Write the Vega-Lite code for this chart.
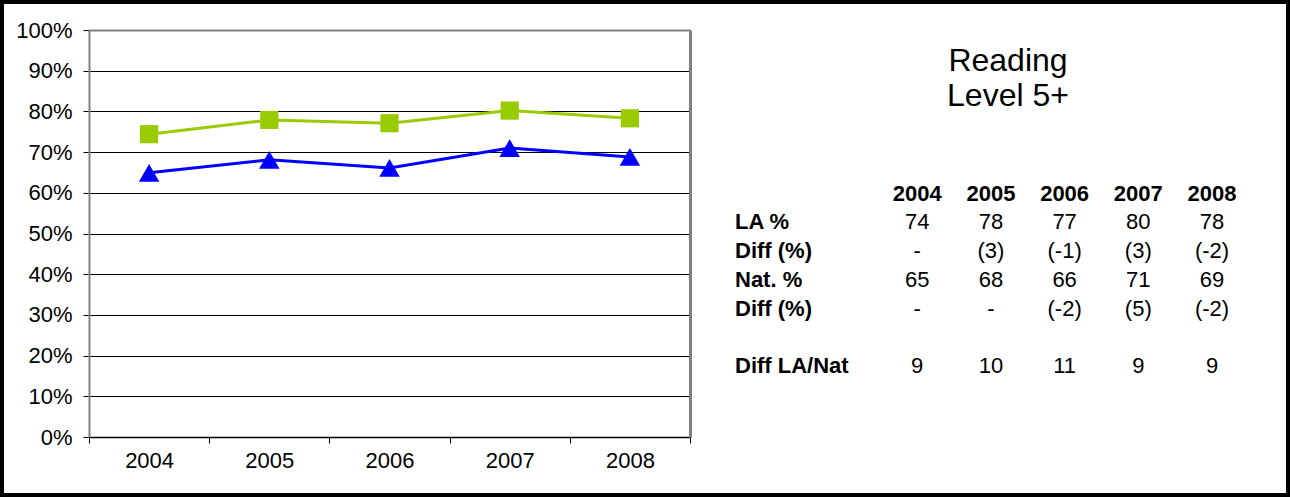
{
  "$schema": "https://vega.github.io/schema/vega-lite/v6.json",
  "width": 1290,
  "height": 497,
  "autosize": {"type": "none"},
  "padding": 0,
  "background": "white",
  "config": {
    "view": {"stroke": "black", "strokeWidth": 8},
    "font": "Liberation Sans",
    "text": {"font": "Liberation Sans"}
  },
  "title": {
    "text": ["Reading", "Level 5+"],
    "fontSize": 32,
    "fontWeight": "normal",
    "font": "Liberation Sans",
    "color": "black",
    "anchor": "middle",
    "frame": "group",
    "dx": 363,
    "offset": -113,
    "baseline": "top",
    "lineHeight": 35
  },
  "datasets": {
    "series": [
      {"year": "2004", "series": "LA", "value": 0.744},
      {"year": "2005", "series": "LA", "value": 0.779},
      {"year": "2006", "series": "LA", "value": 0.771},
      {"year": "2007", "series": "LA", "value": 0.802},
      {"year": "2008", "series": "LA", "value": 0.783},
      {"year": "2004", "series": "Nat", "value": 0.649},
      {"year": "2005", "series": "Nat", "value": 0.681},
      {"year": "2006", "series": "Nat", "value": 0.661},
      {"year": "2007", "series": "Nat", "value": 0.710},
      {"year": "2008", "series": "Nat", "value": 0.688}
    ],
    "table": [
      {"kind": "head", "row": 0, "col": 2.5, "text": "2004"},
      {"kind": "head", "row": 0, "col": 3.5, "text": "2005"},
      {"kind": "head", "row": 0, "col": 4.5, "text": "2006"},
      {"kind": "head", "row": 0, "col": 5.5, "text": "2007"},
      {"kind": "head", "row": 0, "col": 6.5, "text": "2008"},
      {"kind": "label", "row": 1, "col": 0, "text": "LA %"},
      {"kind": "label", "row": 2, "col": 0, "text": "Diff (%)"},
      {"kind": "label", "row": 3, "col": 0, "text": "Nat. %"},
      {"kind": "label", "row": 4, "col": 0, "text": "Diff (%)"},
      {"kind": "label", "row": 6, "col": 0, "text": "Diff LA/Nat"},
      {"kind": "value", "row": 1, "col": 2.5, "text": "74"},
      {"kind": "value", "row": 1, "col": 3.5, "text": "78"},
      {"kind": "value", "row": 1, "col": 4.5, "text": "77"},
      {"kind": "value", "row": 1, "col": 5.5, "text": "80"},
      {"kind": "value", "row": 1, "col": 6.5, "text": "78"},
      {"kind": "value", "row": 2, "col": 2.5, "text": "-"},
      {"kind": "value", "row": 2, "col": 3.5, "text": "(3)"},
      {"kind": "value", "row": 2, "col": 4.5, "text": "(-1)"},
      {"kind": "value", "row": 2, "col": 5.5, "text": "(3)"},
      {"kind": "value", "row": 2, "col": 6.5, "text": "(-2)"},
      {"kind": "value", "row": 3, "col": 2.5, "text": "65"},
      {"kind": "value", "row": 3, "col": 3.5, "text": "68"},
      {"kind": "value", "row": 3, "col": 4.5, "text": "66"},
      {"kind": "value", "row": 3, "col": 5.5, "text": "71"},
      {"kind": "value", "row": 3, "col": 6.5, "text": "69"},
      {"kind": "value", "row": 4, "col": 2.5, "text": "-"},
      {"kind": "value", "row": 4, "col": 3.5, "text": "-"},
      {"kind": "value", "row": 4, "col": 4.5, "text": "(-2)"},
      {"kind": "value", "row": 4, "col": 5.5, "text": "(5)"},
      {"kind": "value", "row": 4, "col": 6.5, "text": "(-2)"},
      {"kind": "value", "row": 6, "col": 2.5, "text": "9"},
      {"kind": "value", "row": 6, "col": 3.5, "text": "10"},
      {"kind": "value", "row": 6, "col": 4.5, "text": "11"},
      {"kind": "value", "row": 6, "col": 5.5, "text": "9"},
      {"kind": "value", "row": 6, "col": 6.5, "text": "9"}
    ]
  },
  "layer": [
    {
      "layer": [
        {
          "data": {"name": "series"},
          "encoding": {
            "x": {
              "field": "year",
              "type": "ordinal",
              "scale": {"type": "band", "range": [89, 690], "paddingInner": 0, "paddingOuter": 0},
              "axis": {
                "orient": "bottom",
                "offset": -60,
                "title": null,
                "tickBand": "extent",
                "domainColor": "black",
                "domainWidth": 1.5,
                "tickColor": "black",
                "tickSize": 6,
                "labelFontSize": 22,
                "labelColor": "black",
                "labelPadding": 7,
                "labelAngle": 0,
                "grid": false
              }
            },
            "y": {
              "field": "value",
              "type": "quantitative",
              "scale": {"domain": [0, 1], "range": [437, 30], "nice": false, "zero": true},
              "axis": {
                "orient": "left",
                "offset": -89,
                "title": null,
                "values": [0, 0.1, 0.2, 0.3, 0.4, 0.5, 0.6, 0.7, 0.8, 0.9, 1],
                "format": ".0%",
                "domainColor": "#808080",
                "domainWidth": 2,
                "tickColor": "black",
                "tickSize": 6,
                "labelFontSize": 22,
                "labelColor": "black",
                "labelPadding": 11,
                "grid": true,
                "gridColor": {"condition": {"test": "datum.value >= 0.99", "value": "#808080"}, "value": "black"},
                "gridWidth": {"condition": {"test": "datum.value >= 0.99", "value": 2}, "value": 1}
              }
            },
            "color": {
              "field": "series",
              "type": "nominal",
              "scale": {"domain": ["LA", "Nat"], "range": ["#99CC00", "#0000FF"]},
              "legend": null
            }
          },
          "layer": [
            {"mark": {"type": "line", "strokeWidth": 3}},
            {
              "mark": {"type": "point", "filled": true, "opacity": 1, "strokeWidth": 0},
              "encoding": {
                "shape": {
                  "field": "series",
                  "type": "nominal",
                  "scale": {"domain": ["LA", "Nat"], "range": ["square", "triangle-up"]},
                  "legend": null
                },
                "size": {
                  "field": "series",
                  "type": "nominal",
                  "scale": {"domain": ["LA", "Nat"], "range": [330, 420]},
                  "legend": null
                }
              }
            }
          ]
        },
        {
          "data": {"name": "series"},
          "mark": {"type": "point", "opacity": 0},
          "encoding": {
            "x": {"field": "year", "type": "ordinal", "axis": null},
            "y": {
              "field": "value",
              "type": "quantitative",
              "axis": {
                "orient": "right",
                "offset": -600,
                "title": null,
                "labels": false,
                "ticks": false,
                "grid": false,
                "domainColor": "#808080",
                "domainWidth": 3
              }
            }
          }
        }
      ],
      "resolve": {"axis": {"x": "independent", "y": "independent"}}
    },
    {
      "data": {"name": "table"},
      "encoding": {
        "x": {
          "field": "col",
          "type": "quantitative",
          "scale": {"domain": [0, 6.5], "range": [733, 1212], "nice": false, "zero": false},
          "axis": null
        },
        "y": {
          "field": "row",
          "type": "quantitative",
          "scale": {"domain": [0, 6], "range": [193.5, 366], "nice": false, "zero": false},
          "axis": null
        },
        "text": {"field": "text"}
      },
      "layer": [
        {
          "transform": [{"filter": "datum.kind === 'label'"}],
          "mark": {"type": "text", "align": "left", "baseline": "middle", "fontWeight": "bold", "fontSize": 22, "dx": 2, "color": "black"}
        },
        {
          "transform": [{"filter": "datum.kind === 'head'"}],
          "mark": {"type": "text", "align": "center", "baseline": "middle", "fontWeight": "bold", "fontSize": 22, "color": "black"}
        },
        {
          "transform": [{"filter": "datum.kind === 'value'"}],
          "mark": {"type": "text", "align": "center", "baseline": "middle", "fontSize": 22, "color": "black"}
        }
      ]
    }
  ],
  "resolve": {"scale": {"x": "independent", "y": "independent"}}
}
